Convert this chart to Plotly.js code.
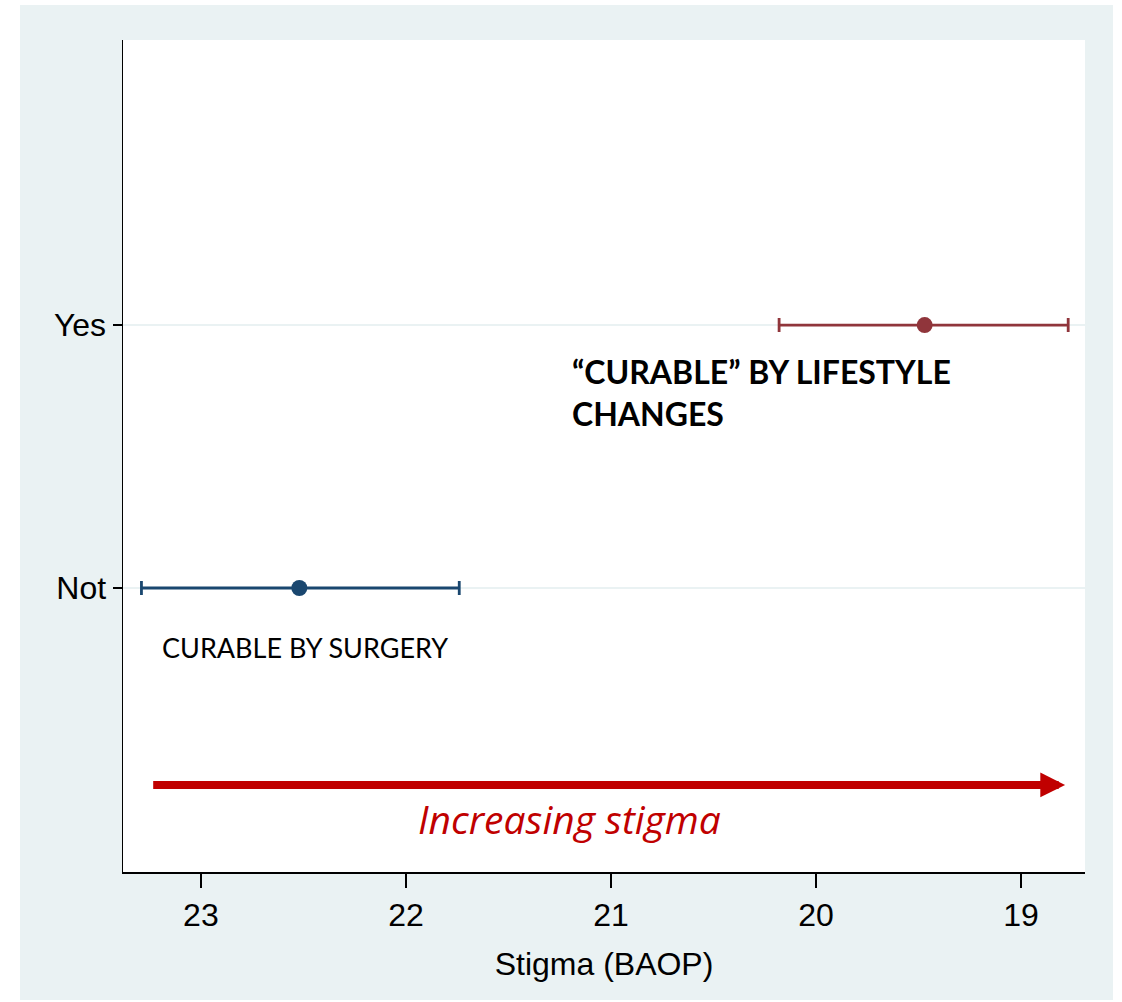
<!DOCTYPE html>
<html>
<head>
<meta charset="utf-8">
<script src="https://cdn.plot.ly/plotly-3.0.1.min.js"></script>
<style>
html,body{margin:0;padding:0;background:#ffffff;}
#chart{position:absolute;left:20px;top:5px;width:1093px;height:995px;}
</style>
</head>
<body>
<div id="chart"></div>
<script>
// Data
const categories = ['Yes', 'Not'];
const meanValues = [19.47, 22.52];
const ciLower   = [18.77, 21.74];   // numerically lower bound
const ciUpper   = [20.18, 23.29];   // numerically upper bound
const colors    = ['#90353b', '#1a476f'];
const xTicks    = [23, 22, 21, 20, 19];

const traces = categories.map((c, i) => ({
  type: 'scatter',
  mode: 'markers',
  x: [meanValues[i]],
  y: [c],
  marker: {color: colors[i], size: 16},
  error_x: {
    type: 'data',
    symmetric: false,
    array: [ciUpper[i] - meanValues[i]],
    arrayminus: [meanValues[i] - ciLower[i]],
    color: colors[i],
    thickness: 2.8,
    width: 7
  },
  showlegend: false,
  hoverinfo: 'x+y'
}));

const tickFont = {family: '"Liberation Sans Narrow", "Arial Narrow", "Liberation Sans", Arial, sans-serif', size: 32, color: '#000'};
const calibri = 'Lato, "Open Sans", sans-serif';

const layout = {
  width: 1093,
  height: 995,
  paper_bgcolor: '#eaf2f3',
  plot_bgcolor: '#ffffff',
  margin: {l: 103, r: 28, t: 35, b: 128},
  showlegend: false,
  xaxis: {
    range: [23.38, 18.688],
    tickvals: xTicks,
    ticktext: xTicks.map(String),
    ticks: 'outside',
    ticklen: 14,
    tickwidth: 1.5,
    tickcolor: '#000',
    showline: true,
    linecolor: '#000',
    linewidth: 2,
    showgrid: false,
    zeroline: false,
    tickfont: tickFont,
    title: {text: 'Stigma (BAOP)', font: tickFont, standoff: 20}
  },
  yaxis: {
    type: 'category',
    categoryorder: 'array',
    categoryarray: ['Not', 'Yes'],
    range: [-1.08, 2.084],
    ticks: 'outside',
    ticklen: 9,
    tickwidth: 1.5,
    tickcolor: '#000',
    showline: true,
    linecolor: '#000',
    linewidth: 1.5,
    showgrid: true,
    gridcolor: '#eaf2f3',
    gridwidth: 2,
    zeroline: false,
    tickfont: tickFont
  },
  annotations: [
    {
      x: 23.2, y: -0.228, xref: 'x', yref: 'y',
      text: 'CURABLE BY SURGERY', showarrow: false,
      xanchor: 'left', yanchor: 'middle',
      font: {family: calibri, size: 27, color: '#000'}
    },
    {
      x: 21.2, y: 0.745, xref: 'x', yref: 'y',
      text: '<b>“CURABLE” BY LIFESTYLE<br>CHANGES</b>', showarrow: false,
      xanchor: 'left', yanchor: 'middle', align: 'left',
      font: {family: calibri, size: 32, color: '#000'}
    },
    {
      x: 21.2, y: -0.875, xref: 'x', yref: 'y',
      text: '<i>Increasing stigma</i>', showarrow: false,
      xanchor: 'center', yanchor: 'middle',
      font: {family: '"Open Sans", Lato, sans-serif', size: 39, color: '#c00000'}
    },
    {
      x: 18.785, y: -0.749, xref: 'x', yref: 'y',
      ax: 23.24, ay: -0.749, axref: 'x', ayref: 'y',
      text: '', showarrow: true,
      arrowhead: 2, arrowsize: 0.62, arrowwidth: 8,
      arrowcolor: '#c00000'
    }
  ]
};

Plotly.newPlot('chart', traces, layout, {displayModeBar: false, staticPlot: true});
</script>
</body>
</html>
